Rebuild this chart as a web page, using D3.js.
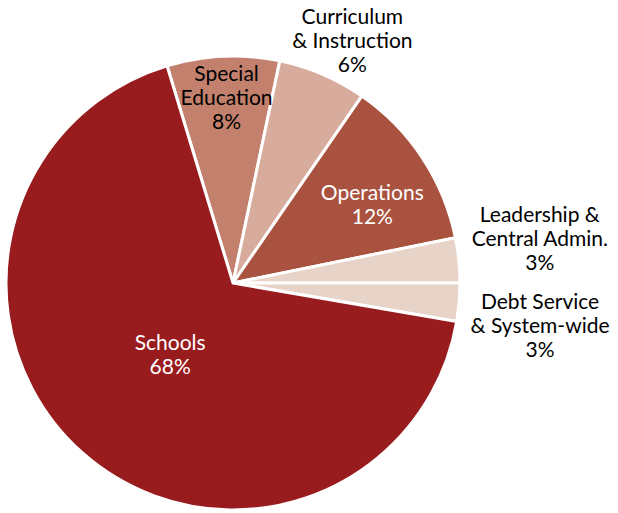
<!DOCTYPE html>
<html>
<head>
<meta charset="utf-8">
<script src="https://cdn.jsdelivr.net/npm/d3@7"></script>
<style>
  html, body { margin: 0; padding: 0; background: #fff; }
  svg text { font-family: "Lato", "Open Sans", sans-serif; font-size: 21px; }
</style>
</head>
<body>
<svg id="chart" width="618" height="513"></svg>
<script>
// Data (clockwise from Special Education)
const categories = ["Special Education", "Curriculum & Instruction", "Operations", "Leadership & Central Admin.", "Debt Service & System-wide", "Schools"];
const values = [8.0, 6.3, 12.2, 3.2, 2.7, 67.6];
const percentLabels = ["8%", "6%", "12%", "3%", "3%", "68%"];
const labelLines = [["Special", "Education"], ["Curriculum", "& Instruction"], ["Operations"], ["Leadership &", "Central Admin."], ["Debt Service", "& System-wide"], ["Schools"]];
const colors = ["#C2806D", "#D8AC9C", "#AA5240", "#E8D3C9", "#E8D3C9", "#981B1E"];
const textColors = ["#000", "#000", "#fff", "#000", "#000", "#fff"];

// Layout
const width = 618, height = 513;
const cx = 233, cy = 283, radius = 227;
const startDeg = -16.9;
// label placement: radius and angle offset (deg) relative to slice mid-angle
const labelPlace = [
  { r: 185, da: 0.5 },
  { r: 270, da: 3.0 },
  { r: 160, da: 4.0 },
  { r: 310, da: -2.5 },
  { r: 310, da: 3.0 },
  { r: 95, da: 0 }
];

const svg = d3.select("#chart");
const g = svg.append("g").attr("transform", `translate(${cx},${cy})`);

const data = categories.map((c, i) => ({ name: c, value: values[i], i }));
const pie = d3.pie().sort(null).value(d => d.value)
  .startAngle(startDeg * Math.PI / 180)
  .endAngle((startDeg + 360) * Math.PI / 180);
const arcs = pie(data);
const arc = d3.arc().innerRadius(0).outerRadius(radius);

g.selectAll("path.slice").data(arcs).join("path")
  .attr("class", "slice")
  .attr("d", arc)
  .attr("fill", d => colors[d.data.i])
  .attr("stroke", "#fff")
  .attr("stroke-width", 3)
  .attr("stroke-linejoin", "round");

const lineH = 24;
arcs.forEach(d => {
  const i = d.data.i;
  const mid = (d.startAngle + d.endAngle) / 2 + labelPlace[i].da * Math.PI / 180;
  const r = labelPlace[i].r;
  const x = Math.sin(mid) * r, y = -Math.cos(mid) * r;
  const lines = labelLines[i].concat([percentLabels[i]]);
  const n = lines.length;
  const t = g.append("text")
    .attr("text-anchor", "middle")
    .attr("fill", textColors[i]);
  lines.forEach((ln, k) => {
    t.append("tspan")
      .attr("x", x)
      .attr("y", y + (k - (n - 1) / 2) * lineH)
      .attr("dy", "0.35em")
      .text(ln);
  });
});
</script>
</body>
</html>
